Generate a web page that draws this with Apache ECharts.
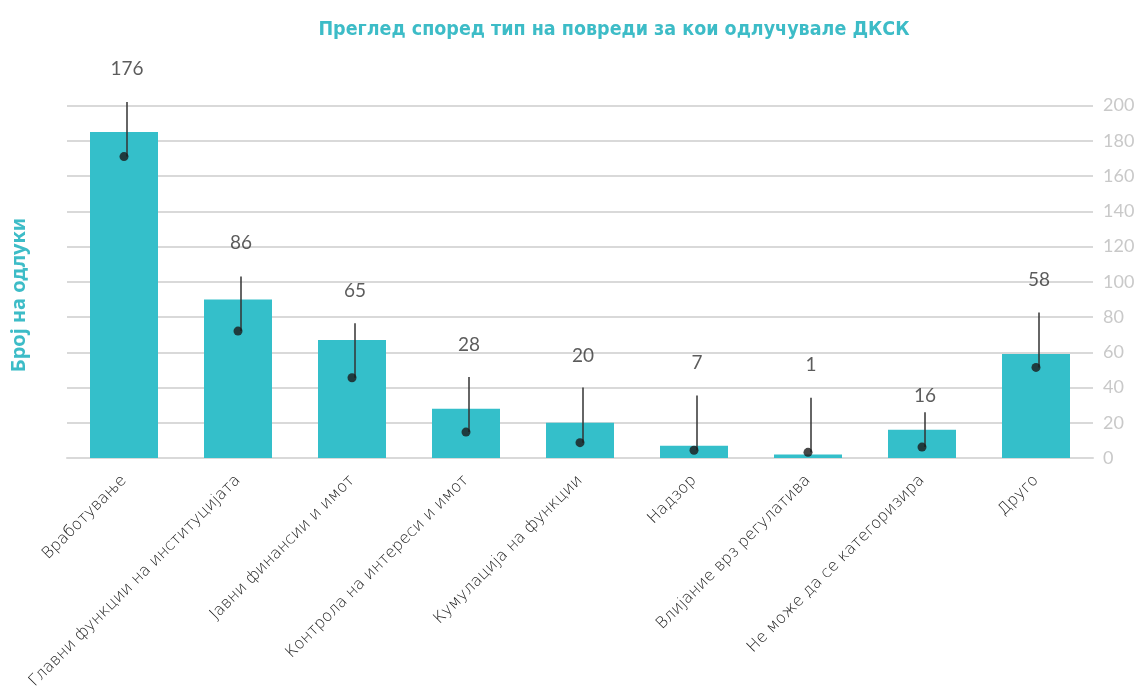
<!DOCTYPE html>
<html>
<head>
<meta charset="utf-8">
<script src="https://cdn.jsdelivr.net/npm/echarts@6/dist/echarts.min.js"></script>
<style>html,body{margin:0;padding:0;background:#fff}#c{width:1140px;height:692px}</style>
</head>
<body>
<div id="c"></div>
<script>
const categories = ['Вработување','Главни функции на институцијата','Јавни финансии и имот','Контрола на интереси и имот','Кумулација на функции','Надзор','Влијание врз регулатива','Не може да се категоризира','Друго'];
const barValues = [185, 90, 67, 28, 20, 7, 2, 16, 59];
const labelTexts = ['176','86','65','28','20','7','1','16','58'];
const dotValues = [171, 72, 45.5, 14.7, 8.7, 4.4, 3.2, 6.2, 51.4];
const leaderTops = [202, 103, 76.5, 46, 40, 35.4, 34.2, 26, 82.5];
const labelLevels = [221, 122, 94.6, 64, 58, 54, 52.7, 35, 101];
const yTicks = [0, 20, 40, 60, 80, 100, 120, 140, 160, 180, 200];

const chart = echarts.init(document.getElementById('c'));
const teal = '#34bfca';
chart.setOption({
  animation: false,
  title: {
    text: 'Преглед според тип на повреди за кои одлучувале ДКСК',
    left: 609, textAlign: 'center', top: 15,
    textStyle: {color: '#3dbcc7', fontSize: 19.5, fontWeight: 'bold', fontFamily: 'DejaVu Sans Condensed'}
  },
  grid: {left: 67, right: 47, top: 105.5, bottom: 234},
  xAxis: {
    type: 'category', data: categories,
    axisLine: {lineStyle: {color: '#d9d9d9', width: 2}},
    axisTick: {show: false},
    axisLabel: {rotate: 45, margin: 20, color: '#1a1a1a', fontSize: 16, fontWeight: 200, fontFamily: 'DejaVu Sans', interval: 0}
  },
  yAxis: {
    type: 'value', position: 'right', min: yTicks[0], max: yTicks[yTicks.length-1], interval: yTicks[1]-yTicks[0],
    axisLine: {show: false}, axisTick: {show: false},
    splitLine: {lineStyle: {color: '#d9d9d9', width: 2}},
    axisLabel: {color: '#c9c9c9', fontSize: 18, fontFamily: 'Lato', margin: 10}
  },
  graphic: [{
    type: 'text', rotation: Math.PI/2, x: 19, y: 295,
    style: {text: 'Број на одлуки', fill: '#3dbcc7', font: 'bold 20px "Noto Sans"', align: 'center', verticalAlign: 'middle'}
  }],
  series: [
    {type: 'bar', data: barValues, barWidth: 68, itemStyle: {color: teal}},
    {
      type: 'custom', clip: false, z: 5,
      data: leaderTops.map((t, i) => [i, dotValues[i], t]),
      renderItem: function (params, api) {
        const a = api.coord([api.value(0), api.value(1)]);
        const b = api.coord([api.value(0), api.value(2)]);
        return {type: 'line', shape: {x1: a[0]+3, y1: a[1], x2: b[0]+3, y2: b[1]}, style: {stroke: '#333', lineWidth: 1.5}};
      }
    },
    {
      type: 'scatter', data: dotValues.map((v, i) => [i, v]), symbolSize: 9, z: 6,
      itemStyle: {color: '#1a1a1a'}
    },
    {
      type: 'scatter', clip: false, symbolSize: 0, z: 6,
      data: labelLevels.map((v, i) => ({value: [i, v], label: {formatter: labelTexts[i]}})),
      label: {show: true, position: 'inside', offset: [3, 0], color: '#333', fontSize: 19, fontFamily: 'Lato'}
    }
  ]
});
</script>
</body>
</html>
